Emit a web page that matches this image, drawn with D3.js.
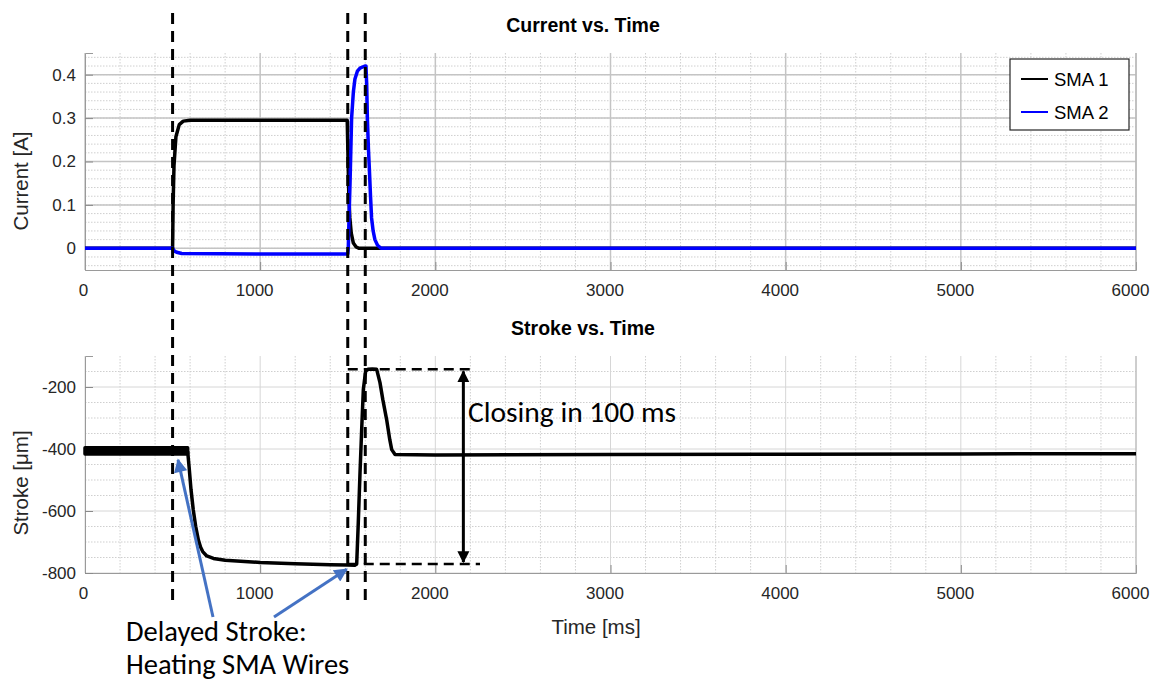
<!DOCTYPE html>
<html>
<head>
<meta charset="utf-8">
<script src="https://cdn.jsdelivr.net/npm/d3@7"></script>
<style>
  body { margin: 0; background: #fff; }
  svg { display: block; }
</style>
</head>
<body>
<svg width="1151" height="682"></svg>
<script>
// tick values
const timeTicks = [0, 1000, 2000, 3000, 4000, 5000, 6000];
const currentTicks = [0, 0.1, 0.2, 0.3, 0.4];
const strokeTicks = [-800, -600, -400, -200];

// current, SMA 1 (black)
const sma1Time    = [0, 500, 503, 508, 519, 538, 561, 600, 1000, 1497, 1502, 1506, 1512, 1520, 1532, 1548, 1565, 2000, 6000];
const sma1Current = [0, 0, 0.10, 0.19, 0.257, 0.285, 0.293, 0.295, 0.295, 0.295, 0.20, 0.12, 0.07, 0.035, 0.012, 0.003, 0, 0, 0];

// current, SMA 2 (blue)
const sma2Time    = [0, 500, 510, 523, 552, 1000, 1500, 1503, 1508, 1513, 1522, 1532, 1541, 1555, 1570, 1598, 1604, 1608, 1612, 1618, 1623, 1630, 1636, 1645, 1655, 1670, 1690, 6000];
const sma2Current = [0, 0, -0.006, -0.009, -0.012, -0.013, -0.013, 0, 0.08, 0.15, 0.30, 0.36, 0.39, 0.408, 0.415, 0.42, 0.42, 0.38, 0.30, 0.23, 0.186, 0.12, 0.07, 0.04, 0.02, 0.007, 0, 0];

// stroke, noisy band before heating
const bandTime = [0, 586];
const bandLow  = [-416, -416];
const bandHigh = [-396, -396];

// stroke line
const strokeTime  = [586, 594, 605, 618, 632, 647, 660, 672, 695, 733, 800, 1000, 1200, 1400, 1500, 1540, 1551, 1560, 1570, 1580, 1589, 1602, 1615, 1640, 1665, 1684, 1700, 1722, 1740, 1751, 1770, 2000, 3000, 4000, 5000, 6000];
const strokeValue = [-407, -456, -530, -596, -650, -693, -717, -731, -745, -753, -759, -766, -770, -773, -774, -775, -771, -640, -477, -330, -208, -149, -143, -142, -143, -186, -240, -305, -370, -402, -418, -419, -418, -417, -416, -415];

// annotations (data units)
const markerTimes = [500, 1500, 1600];
const closingTime = 2160;
const closingTop = -143, closingBottom = -771;
const closingTopEnd = 2215, closingBottomEnd = 2255;
const delayTips = [[531, -435], [1494, -788]];

const svg = d3.select("svg");
const font = "'Liberation Sans', Arial, Helvetica, sans-serif";
const noteFont = "Carlito, Calibri, Lato, 'Open Sans', sans-serif";

const left = 85, right = 1136;
const top1 = 53, bottom1 = 270;
const top2 = 356, bottom2 = 573;

const x = d3.scaleLinear().domain([0, 6000]).range([left, right]);
const y1 = d3.scaleLinear().domain([-0.05, 0.45]).range([bottom1, top1]);
const y2 = d3.scaleLinear().domain([-800, -100]).range([bottom2, top2]);

svg.append("defs").html(`
  <marker id="blackHead" viewBox="0 0 10 10" refX="9" refY="5" markerWidth="4" markerHeight="4.5" orient="auto-start-reverse">
    <path d="M0,0 L10,5 L0,10 z" fill="#000"/>
  </marker>
  <marker id="blueHead" viewBox="0 0 10 10" refX="9" refY="5" markerWidth="5" markerHeight="4.5" orient="auto">
    <path d="M0,0 L10,5 L0,10 z" fill="#4472C4"/>
  </marker>`);

function drawPanel(y, top, bottom, minorY, majorColor, majorWidth, ticks, fmt, title, ylabel, ylabelY) {
    const g = svg.append("g");
    const minorX = d3.range(0, 6001, 200).filter(d => d % 1000 !== 0);

    // minor grid
    g.selectAll(".mx").data(minorX).enter().append("line")
        .attr("x1", d => x(d)).attr("x2", d => x(d))
        .attr("y1", top).attr("y2", bottom)
        .attr("stroke", "#cfcfcf").attr("stroke-dasharray", "1.5,1.5");
    g.selectAll(".my").data(minorY).enter().append("line")
        .attr("x1", left).attr("x2", right)
        .attr("y1", d => y(d)).attr("y2", d => y(d))
        .attr("stroke", "#cfcfcf").attr("stroke-dasharray", "1.5,1.5");

    // major grid
    g.selectAll(".gx").data(timeTicks).enter().append("line")
        .attr("x1", d => x(d)).attr("x2", d => x(d))
        .attr("y1", top).attr("y2", bottom)
        .attr("stroke", majorColor).attr("stroke-width", majorWidth);
    g.selectAll(".gy").data(ticks).enter().append("line")
        .attr("x1", left).attr("x2", right)
        .attr("y1", d => y(d)).attr("y2", d => y(d))
        .attr("stroke", majorColor).attr("stroke-width", majorWidth);

    // axes
    const xAxis = d3.axisBottom(x).tickValues(timeTicks).tickSize(-8).tickPadding(14).tickFormat(d => String(d));
    const gx = g.append("g").attr("transform", `translate(0, ${bottom})`).call(xAxis);
    gx.selectAll(".tick text").attr("dx", d => d === 0 ? -2 : -6);
    const yAxis = d3.axisLeft(y).tickValues(ticks).tickSize(-8).tickPadding(9).tickFormat(fmt);
    g.append("g").attr("transform", `translate(${left}, 0)`).call(yAxis);
    g.selectAll(".domain").attr("stroke", "#9a9a9a");
    g.selectAll(".tick line").attr("stroke", "#8a8a8a");
    g.selectAll(".tick text").attr("font-family", font).attr("font-size", "17px").attr("fill", "#262626");

    g.append("line").attr("x1", right).attr("x2", right).attr("y1", top).attr("y2", bottom)
        .attr("stroke", "#b0b0b0");

    // title
    g.append("text")
        .attr("x", 583).attr("y", top - 21)
        .attr("text-anchor", "middle")
        .attr("font-family", font).attr("font-size", "19.5px").attr("font-weight", "bold")
        .text(title);

    // Y label
    g.append("text")
        .attr("transform", `translate(28, ${ylabelY}) rotate(-90)`)
        .attr("text-anchor", "middle")
        .attr("font-family", font).attr("font-size", "20.5px").attr("fill", "#262626")
        .text(ylabel);
    return g;
}

// plot 1: current
const g1 = drawPanel(y1, top1, bottom1, d3.range(-0.04, 0.45, 0.02).map(d => +d.toFixed(2)),
    "#c4c4c4", 1.5, currentTicks, d => d === 0 ? "0" : d3.format(".1f")(d),
    "Current vs. Time", "Current [A]", 181);

const line1 = d3.line().x(d => x(d[0])).y(d => y1(d[1]));
g1.append("path")
    .attr("d", line1(sma1Time.map((t, i) => [t, sma1Current[i]])))
    .attr("fill", "none").attr("stroke", "#000").attr("stroke-width", 3.5).attr("stroke-linejoin", "round");
g1.append("path")
    .attr("d", line1(sma2Time.map((t, i) => [t, sma2Current[i]])))
    .attr("fill", "none").attr("stroke", "#0000ff").attr("stroke-width", 3.5).attr("stroke-linejoin", "round");

// legend
const legend = g1.append("g");
legend.append("rect").attr("x", 1010).attr("y", 59).attr("width", 119).attr("height", 71)
    .attr("fill", "#fff").attr("stroke", "#262626").attr("stroke-width", 1.2);
[["SMA 1", "#000"], ["SMA 2", "#0000ff"]].forEach((d, i) => {
    const ly = 79 + i * 33;
    legend.append("line").attr("x1", 1021).attr("x2", 1048).attr("y1", ly).attr("y2", ly)
        .attr("stroke", d[1]).attr("stroke-width", 2);
    legend.append("text").attr("x", 1054).attr("y", ly + 7)
        .attr("font-family", font).attr("font-size", "18.5px").attr("fill", "#000")
        .text(d[0]);
});

// plot 2: stroke
const g2 = drawPanel(y2, top2, bottom2, d3.range(-750, -100, 50).filter(d => d % 200 !== 0),
    "#d6d6d6", 1, strokeTicks, d => String(d),
    "Stroke vs. Time", "Stroke [\u03bcm]", 483);

const band = d3.area().x(d => x(d[0])).y0(d => y2(d[1])).y1(d => y2(d[2]));
g2.append("path")
    .attr("d", band(bandTime.map((t, i) => [t, bandLow[i], bandHigh[i]])))
    .attr("fill", "#000").attr("stroke", "#000").attr("stroke-width", 3.5).attr("stroke-linejoin", "round");
const line2 = d3.line().x(d => x(d[0])).y(d => y2(d[1]));
g2.append("path")
    .attr("d", line2(strokeTime.map((t, i) => [t, strokeValue[i]])))
    .attr("fill", "none").attr("stroke", "#000").attr("stroke-width", 3.5).attr("stroke-linejoin", "round");

// X label
svg.append("text")
    .attr("x", 596).attr("y", 634)
    .attr("text-anchor", "middle")
    .attr("font-family", font).attr("font-size", "20.5px").attr("fill", "#262626")
    .text("Time [ms]");

// annotations
const notes = svg.append("g");
notes.selectAll(".marker").data(markerTimes).enter().append("line")
    .attr("x1", d => x(d)).attr("x2", d => x(d))
    .attr("y1", 13).attr("y2", 600)
    .attr("stroke", "#000").attr("stroke-width", 3).attr("stroke-dasharray", "11,7");

notes.append("line")
    .attr("x1", x(1500)).attr("x2", x(closingTopEnd))
    .attr("y1", y2(closingTop)).attr("y2", y2(closingTop))
    .attr("stroke", "#000").attr("stroke-width", 2.5).attr("stroke-dasharray", "10,6");
notes.append("line")
    .attr("x1", x(1500)).attr("x2", x(closingBottomEnd))
    .attr("y1", y2(closingBottom)).attr("y2", y2(closingBottom))
    .attr("stroke", "#000").attr("stroke-width", 2.5).attr("stroke-dasharray", "10,6");
notes.append("line")
    .attr("x1", x(closingTime)).attr("x2", x(closingTime))
    .attr("y1", y2(closingTop) + 2).attr("y2", y2(closingBottom) - 2)
    .attr("stroke", "#000").attr("stroke-width", 3)
    .attr("marker-start", "url(#blackHead)").attr("marker-end", "url(#blackHead)");

notes.append("text")
    .attr("x", 468).attr("y", 422)
    .attr("font-family", noteFont).attr("font-size", "29.5px").attr("fill", "#000")
    .text("Closing in 100 ms");

const tails = [[213, 617], [274, 617]];
delayTips.forEach((d, i) => {
    notes.append("line")
        .attr("x1", tails[i][0]).attr("y1", tails[i][1])
        .attr("x2", x(d[0])).attr("y2", y2(d[1]))
        .attr("stroke", "#4472C4").attr("stroke-width", 3)
        .attr("marker-end", "url(#blueHead)");
});

notes.append("text")
    .attr("x", 126).attr("y", 641)
    .attr("font-family", noteFont).attr("font-size", "28.5px").attr("fill", "#000")
    .text("Delayed Stroke:");
notes.append("text")
    .attr("x", 126).attr("y", 674)
    .attr("font-family", noteFont).attr("font-size", "28.5px").attr("fill", "#000")
    .text("Heating SMA Wires");
</script>
</body>
</html>
